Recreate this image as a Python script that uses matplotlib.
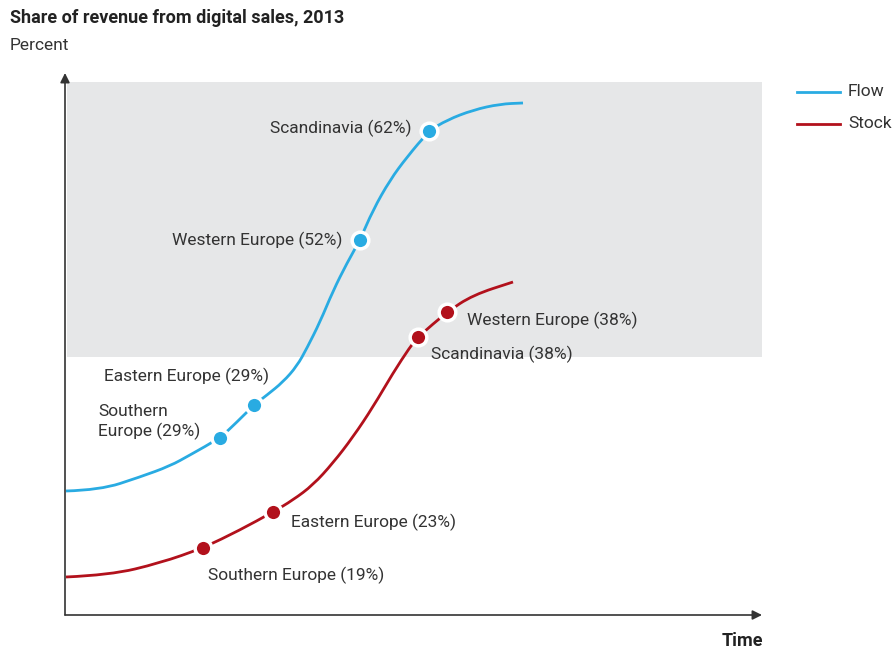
import matplotlib
matplotlib.use("Agg")
import matplotlib.pyplot as plt
from matplotlib.path import Path
from matplotlib.patches import PathPatch

plt.rcParams['font.family'] = ['Roboto', 'DejaVu Sans']

# 曲线取样点 (时间, 份额), 任意单位
flow_time = [1, 35, 75, 105, 125, 155, 172, 189, 202, 218, 232, 242, 255, 268, 282,
             295, 308, 325, 342, 364, 382, 408, 435, 458]
flow_share = [124, 125, 138, 149, 160, 177, 193, 210, 220, 233, 249, 267, 293, 324, 352,
              375, 405, 435, 458, 484, 495, 505, 511, 512]
stock_time = [1, 45, 95, 138, 175, 208, 228, 248, 268, 288, 308, 328, 345, 353, 382, 408, 448]
stock_share = [38, 40, 52, 67, 85, 103, 115, 130, 152, 178, 208, 242, 268, 278, 303, 320, 333]

# 标注点
flow_regions = ['Southern\nEurope (29%)', 'Eastern Europe (29%)',
                'Western Europe (52%)', 'Scandinavia (62%)']
flow_pt_time = [155, 189, 295, 364]
flow_pt_share = [177, 210, 375, 484]

stock_regions = ['Southern Europe (19%)', 'Eastern Europe (23%)',
                 'Scandinavia (38%)', 'Western Europe (38%)']
stock_pt_time = [138, 208, 353, 382]
stock_pt_share = [67, 103, 278, 303]

# 阴影区域 (高份额区间)
band_low, band_high = 258, 533

BLUE = '#29abe2'
RED = '#b2111c'
TXT = '#333333'


def smooth_path(xs, ys):
    """用二次贝塞尔段连接取样点, 让曲线看起来平滑"""
    pts = list(zip(xs, ys))
    verts = [pts[0]]
    codes = [Path.MOVETO]
    for i in range(1, len(pts) - 1):
        mid = ((pts[i][0] + pts[i + 1][0]) / 2, (pts[i][1] + pts[i + 1][1]) / 2)
        verts += [pts[i], mid]
        codes += [Path.CURVE3, Path.CURVE3]
    verts.append(pts[-1])
    codes.append(Path.LINETO)
    return Path(verts, codes)


fig = plt.figure(figsize=(8.95, 6.49), dpi=100)
ax = fig.add_axes([65 / 895, 34 / 649, 697 / 895, 542 / 649])
ax.set_xlim(0, 697)
ax.set_ylim(0, 542)
ax.axis('off')

ax.axhspan(band_low, band_high, xmin=2 / 697, xmax=1, color='#e6e7e8', lw=0, zorder=0)

# 坐标轴箭头
ax.annotate('', xy=(0, 1), xytext=(0, 0), xycoords='axes fraction',
            arrowprops=dict(arrowstyle='-|>', color='#333333', lw=1.2,
                            mutation_scale=14, shrinkA=0, shrinkB=0))
ax.annotate('', xy=(1, 0), xytext=(0, 0), xycoords='axes fraction',
            arrowprops=dict(arrowstyle='-|>', color='#333333', lw=1.2,
                            mutation_scale=14, shrinkA=0, shrinkB=0))

ax.add_patch(PathPatch(smooth_path(flow_time, flow_share), fc='none', ec=BLUE,
                       lw=2, capstyle='butt', zorder=2))
ax.add_patch(PathPatch(smooth_path(stock_time, stock_share), fc='none', ec=RED,
                       lw=2, capstyle='butt', zorder=2))
ax.plot(flow_pt_time, flow_pt_share, 'o', color=BLUE, ms=12, mec='white', mew=2.5, zorder=3)
ax.plot(stock_pt_time, stock_pt_share, 'o', color=RED, ms=12, mec='white', mew=2.5, zorder=3)

# 标注文字位置 (像素偏移)
flow_offsets = [(-122, 16, 'left'), (-150, 29, 'left'), (-18, 0, 'right'), (-17, 3, 'right')]
stock_offsets = [(5, -27, 'left'), (18, -10, 'left'), (13, -17, 'left'), (20, -8, 'left')]

for name, x, y, (dx, dy, ha) in zip(flow_regions, flow_pt_time, flow_pt_share, flow_offsets):
    ax.annotate(name, (x, y), xytext=(dx, dy), textcoords='offset pixels',
                ha=ha, va='center', fontsize=12.5, color=TXT, linespacing=1.35,
                multialignment='left')
for name, x, y, (dx, dy, ha) in zip(stock_regions, stock_pt_time, stock_pt_share, stock_offsets):
    ax.annotate(name, (x, y), xytext=(dx, dy), textcoords='offset pixels',
                ha=ha, va='center', fontsize=12.5, color=TXT)

fig.text(10 / 895, 1 - 18 / 649, 'Share of revenue from digital sales, 2013',
         fontsize=13, fontweight='bold', color='#222222', va='center')
fig.text(10 / 895, 1 - 45 / 649, 'Percent', fontsize=12.5, color=TXT, va='center')
fig.text(763 / 895, 1 - 641 / 649, 'Time', fontsize=13, fontweight='bold',
         color='#222222', ha='right', va='center')

# 图例
leg = fig.add_axes([795 / 895, 1 - 135 / 649, 100 / 895, 55 / 649])
leg.set_xlim(0, 100)
leg.set_ylim(0, 55)
leg.axis('off')
leg.plot([2, 45], [43, 43], color=BLUE, lw=2)
leg.plot([2, 45], [11, 11], color=RED, lw=2)
leg.text(53, 43, 'Flow', fontsize=12.5, color=TXT, va='center')
leg.text(53, 11, 'Stock', fontsize=12.5, color=TXT, va='center')

fig.savefig('out.png', dpi=100)
